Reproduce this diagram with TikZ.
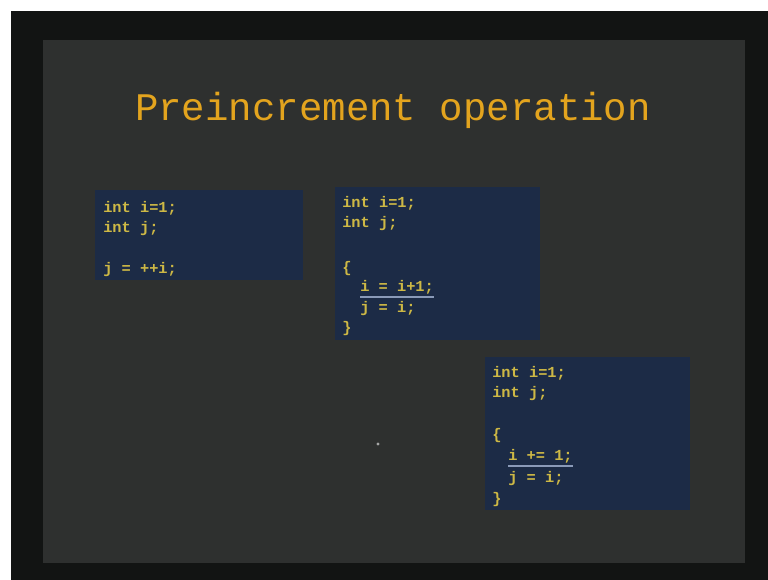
\documentclass[tikz,border=0pt]{standalone}
\usepackage{fontspec}
\setmonofont{Liberation Mono}
\usepackage{xcolor}
\usetikzlibrary{positioning}
\definecolor{frameblack}{HTML}{121413}
\definecolor{slidegray}{HTML}{2E302F}
\definecolor{boxnavy}{HTML}{1C2B46}
\definecolor{titleorange}{HTML}{E3A41E}
\definecolor{codeyellow}{HTML}{CDB845}
\definecolor{ruleblue}{HTML}{8A9AB8}

\begin{document}
\begin{tikzpicture}[
  x=0.75pt, y=-0.75pt,
  codebox/.style={rectangle, fill=boxnavy, draw=none, anchor=north west, inner sep=0pt},
  codeline/.style={anchor=base west, inner sep=0pt, text=codeyellow, font=\ttfamily\bfseries\fontsize{11.5}{13}\selectfont},
  underl/.style={draw=ruleblue, line width=1.3pt}
]
\useasboundingbox (0,0) rectangle (768,580);
\fill[white] (0,0) rectangle (768,580);
\fill[frameblack] (11,11) rectangle (768,580);
\fill[slidegray] (43,40) rectangle (745,563);

\node[anchor=base, text=titleorange, font=\ttfamily\fontsize{29.3}{32}\selectfont] (title) at (393,121) {Preincrement operation};

% first box
\node[codebox, minimum width=208*0.75pt, minimum height=90*0.75pt] (boxA) at (95,190) {};
\node[codeline] (aone) at (103,213) {int i=1;};
\node[codeline] (atwo) at (103,233) {int j;};
\node[codeline] (athree) at (103,274) {j = ++i;};

% second box
\node[codebox, minimum width=205*0.75pt, minimum height=153*0.75pt] (boxB) at (335,187) {};
\node[codeline] (bone) at (342,208) {int i=1;};
\node[codeline] (btwo) at (342,228) {int j;};
\node[codeline] (bopen) at (342,273) {\{};
\node[codeline] (binc) at (360,292) {i = i+1;};
\node[codeline] (bassign) at (360,313) {j = i;};
\node[codeline] (bclose) at (342,333) {\}};
\draw[underl] ([yshift=-4pt]binc.base west) -- ([yshift=-4pt]binc.base east);

% third box
\node[codebox, minimum width=205*0.75pt, minimum height=153*0.75pt] (boxC) at (485,357) {};
\node[codeline] (cone) at (492,378) {int i=1;};
\node[codeline] (ctwo) at (492,398) {int j;};
\node[codeline] (copen) at (492,440) {\{};
\node[codeline] (cinc) at (508,461) {i += 1;};
\node[codeline] (cassign) at (508,483) {j = i;};
\node[codeline] (cclose) at (492,504) {\}};
\draw[underl] ([yshift=-4pt]cinc.base west) -- ([yshift=-4pt]cinc.base east);

\fill[gray!70] (378,444) circle (1.6);
\end{tikzpicture}
\end{document}
